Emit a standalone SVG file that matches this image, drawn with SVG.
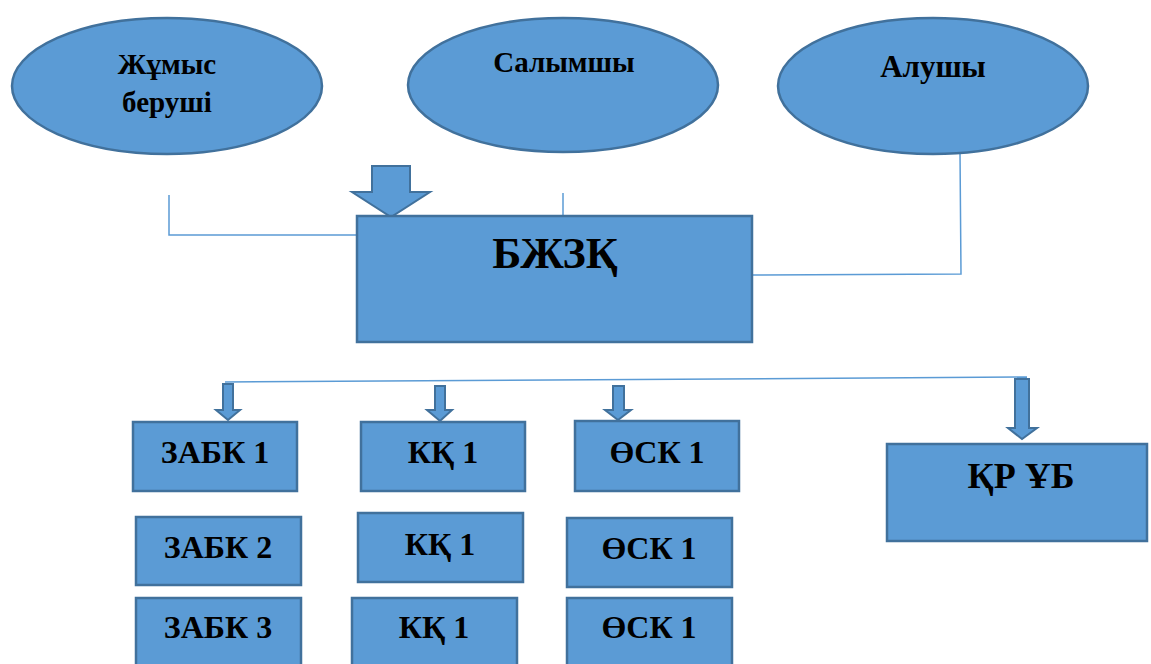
<svg xmlns="http://www.w3.org/2000/svg" width="1151" height="664" viewBox="0 0 1151 664">
<style>
.n{fill:#5B9BD5;stroke:#41719C;stroke-width:2.5}
.t{font-family:"Liberation Serif","Times New Roman",serif;font-weight:bold;fill:#000;text-anchor:middle}
.s{font-size:32px}
.e{font-size:29px}
.c{fill:none;stroke:#5B9BD5;stroke-width:1.5}
.a{fill:#5B9BD5;stroke:#41719C;stroke-width:2}
</style>
<rect width="1151" height="664" fill="#fff"/>
<g id="connectors">
<polyline class="c" points="169,195 169,235 357,235"/>
<line class="c" x1="563" y1="193" x2="563" y2="216"/>
<polyline class="c" points="960,152 961,274 752,275"/>
<line class="c" x1="225" y1="382" x2="1027" y2="377"/>
<path class="a" d="M372,166 H410 V192 H430 L391,217 L352,192 H372 Z"/>
<path class="a" d="M223,384 H233 V410 H240 L228,420 L216,410 H223 Z"/>
<path class="a" d="M435,386 H445 V410 H452 L440,421 L427,410 H435 Z"/>
<path class="a" d="M613,386 H624 V410 H631 L618,420 L605,410 H613 Z"/>
<path class="a" d="M1015,379 H1029 V428 H1037 L1022,439 L1008,428 H1015 Z"/>
</g>
<g id="n-zhumys">
<ellipse class="n" cx="167" cy="86" rx="155" ry="68"/>
<text class="t e" x="167" y="74">Жұмыс</text>
<text class="t e" x="167" y="112">беруші</text>
</g>
<g id="n-salymshy">
<ellipse class="n" cx="563" cy="85" rx="155" ry="67"/>
<text class="t e" x="564" y="72">Салымшы</text>
</g>
<g id="n-alushy">
<ellipse class="n" cx="933" cy="86" rx="155" ry="68"/>
<text class="t" x="933" y="77" font-size="31">Алушы</text>
</g>
<g id="n-bzhzq">
<rect class="n" x="357" y="216" width="395" height="126"/>
<text class="t" x="555" y="268" font-size="44">БЖЗҚ</text>
</g>
<g id="n-zabk1">
<rect class="n" x="133" y="422" width="164" height="69"/>
<text class="t s" x="215" y="463">ЗАБК 1</text>
</g>
<g id="n-kq1">
<rect class="n" x="361" y="422" width="164" height="69"/>
<text class="t s" x="443" y="463">КҚ 1</text>
</g>
<g id="n-osk1">
<rect class="n" x="575" y="421" width="164" height="70"/>
<text class="t s" x="657" y="463">ӨСК 1</text>
</g>
<g id="n-qrub">
<rect class="n" x="887" y="444" width="260" height="97"/>
<text class="t" x="1021" y="488" font-size="36">ҚР ҰБ</text>
</g>
<g id="n-zabk2">
<rect class="n" x="136" y="517" width="165" height="68"/>
<text class="t s" x="218" y="558">ЗАБК 2</text>
</g>
<g id="n-kq1b">
<rect class="n" x="358" y="513" width="165" height="69"/>
<text class="t s" x="440" y="555">КҚ 1</text>
</g>
<g id="n-osk1b">
<rect class="n" x="567" y="518" width="165" height="69"/>
<text class="t s" x="649" y="559">ӨСК 1</text>
</g>
<g id="n-zabk3">
<rect class="n" x="136" y="598" width="165" height="80"/>
<text class="t s" x="218" y="638">ЗАБК 3</text>
</g>
<g id="n-kq1c">
<rect class="n" x="352" y="598" width="165" height="80"/>
<text class="t s" x="434" y="638">КҚ 1</text>
</g>
<g id="n-osk1c">
<rect class="n" x="567" y="598" width="165" height="80"/>
<text class="t s" x="649" y="638">ӨСК 1</text>
</g>
</svg>
